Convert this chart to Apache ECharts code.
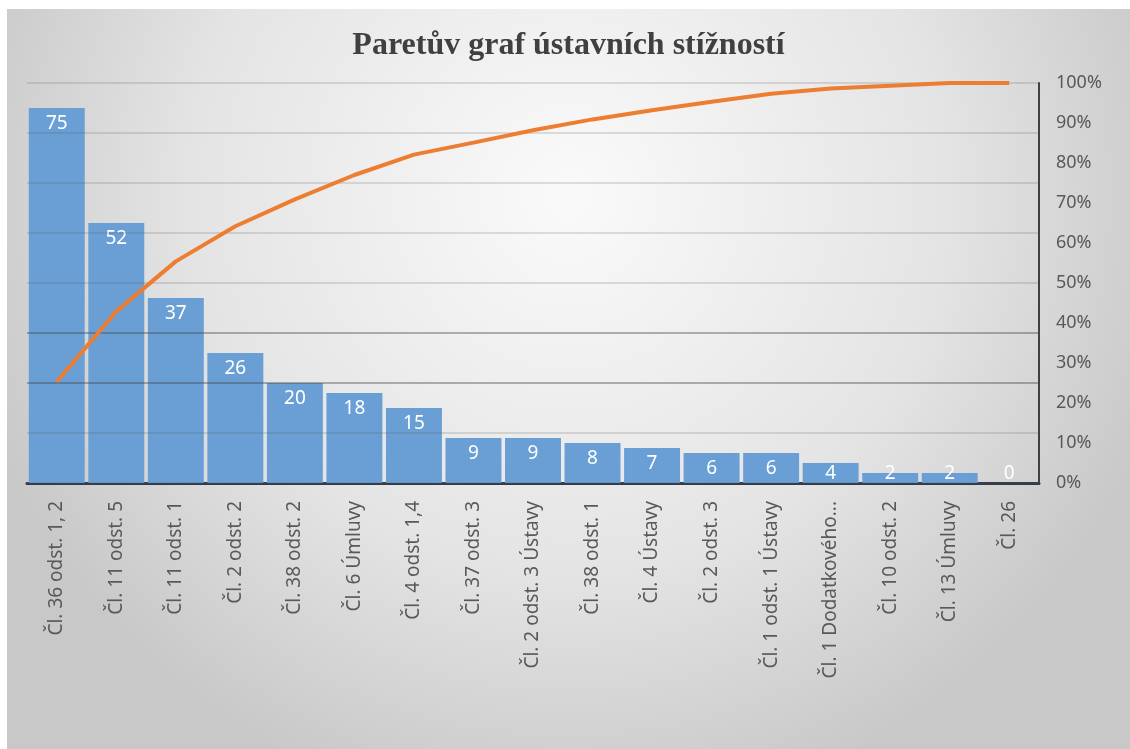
<!DOCTYPE html>
<html>
<head>
<meta charset="utf-8">
<script src="https://cdn.jsdelivr.net/npm/echarts@6/dist/echarts.min.js"></script>
<style>
  html, body { margin: 0; padding: 0; background: #fff; }
  #main { position: absolute; left: 7px; top: 9px; width: 1123px; height: 740px; }
</style>
</head>
<body>
<div id="main"></div>
<script>
// kategorie (články)
var categories = ['Čl. 36 odst. 1, 2', 'Čl. 11 odst. 5', 'Čl. 11 odst. 1', 'Čl. 2 odst. 2',
  'Čl. 38 odst. 2', 'Čl. 6 Úmluvy', 'Čl. 4 odst. 1,4', 'Čl. 37 odst. 3', 'Čl. 2 odst. 3 Ústavy',
  'Čl. 38 odst. 1', 'Čl. 4 Ústavy', 'Čl. 2 odst. 3', 'Čl. 1 odst. 1 Ústavy', 'Čl. 1 Dodatkového...',
  'Čl. 10 odst. 2', 'Čl. 13 Úmluvy', 'Čl. 26'];

// počet stížností
var counts = [75, 52, 37, 26, 20, 18, 15, 9, 9, 8, 7, 6, 6, 4, 2, 2, 0];

// kumulativní podíl (%)
var cumulative = [25.3, 42.9, 55.4, 64.2, 70.9, 77.0, 82.1, 85.1, 88.2, 90.9, 93.2, 95.3, 97.3, 98.6, 99.3, 100, 100];

var percentTicks = [0, 100, 10];

var myChart = echarts.init(document.getElementById('main'));

var thin = 'rgba(90,90,90,0.18)', thick = 'rgba(70,70,70,0.4)';

// u nízkých sloupců popisek přilepit k ose
var barData = counts.map(function (v) {
  if (v < 6) {
    return { value: v, label: { position: 'insideBottom', distance: 0 } };
  }
  return v;
});

var option = {
  backgroundColor: {
    type: 'radial', x: 0.5, y: 0.25, r: 0.85,
    colorStops: [
      { offset: 0, color: '#fafafa' },
      { offset: 0.6, color: '#e4e4e4' },
      { offset: 1, color: '#c8c8c8' }
    ]
  },
  title: {
    text: 'Paretův graf ústavních stížností',
    left: 'center',
    top: 16,
    textStyle: { fontFamily: 'Liberation Serif', fontWeight: 'bold', fontSize: 32, color: '#404040' }
  },
  animation: false,
  grid: { left: 20, right: 91, top: 74, bottom: 266 },
  xAxis: {
    type: 'category',
    data: categories,
    axisLine: { lineStyle: { color: '#2f3a4a', width: 3 } },
    axisTick: { show: false },
    axisLabel: {
      interval: 0, rotate: 90, margin: 18,
      fontFamily: 'Noto Sans', fontSize: 19, color: '#595959'
    }
  },
  yAxis: [{
    type: 'value', min: 0, max: 80, interval: 10,
    z: 3,
    axisLabel: { show: false },
    axisLine: { show: false },
    axisTick: { show: false },
    splitLine: {
      lineStyle: {
        width: 2,
        color: [thin, thin, thick, thick, thin, thin, thin, thin, thin]
      }
    }
  }, {
    type: 'value', min: percentTicks[0], max: percentTicks[1], interval: percentTicks[2],
    position: 'right',
    axisLine: { show: true, lineStyle: { color: '#404040', width: 2 } },
    axisTick: { show: false },
    splitLine: { show: false },
    axisLabel: { formatter: '{value}%', margin: 17, fontFamily: 'Noto Sans', fontSize: 18, color: '#595959' }
  }],
  series: [{
    type: 'bar',
    data: barData,
    barCategoryGap: '6%',
    itemStyle: { color: '#6a9fd6' },
    label: {
      show: true, position: 'insideTop', distance: 6,
      color: '#fff', fontFamily: 'Noto Sans', fontSize: 19
    }
  }, {
    type: 'line',
    yAxisIndex: 1,
    data: cumulative,
    showSymbol: false,
    z: 4,
    lineStyle: { color: '#ed7d31', width: 4 }
  }]
};

myChart.setOption(option);
</script>
</body>
</html>
